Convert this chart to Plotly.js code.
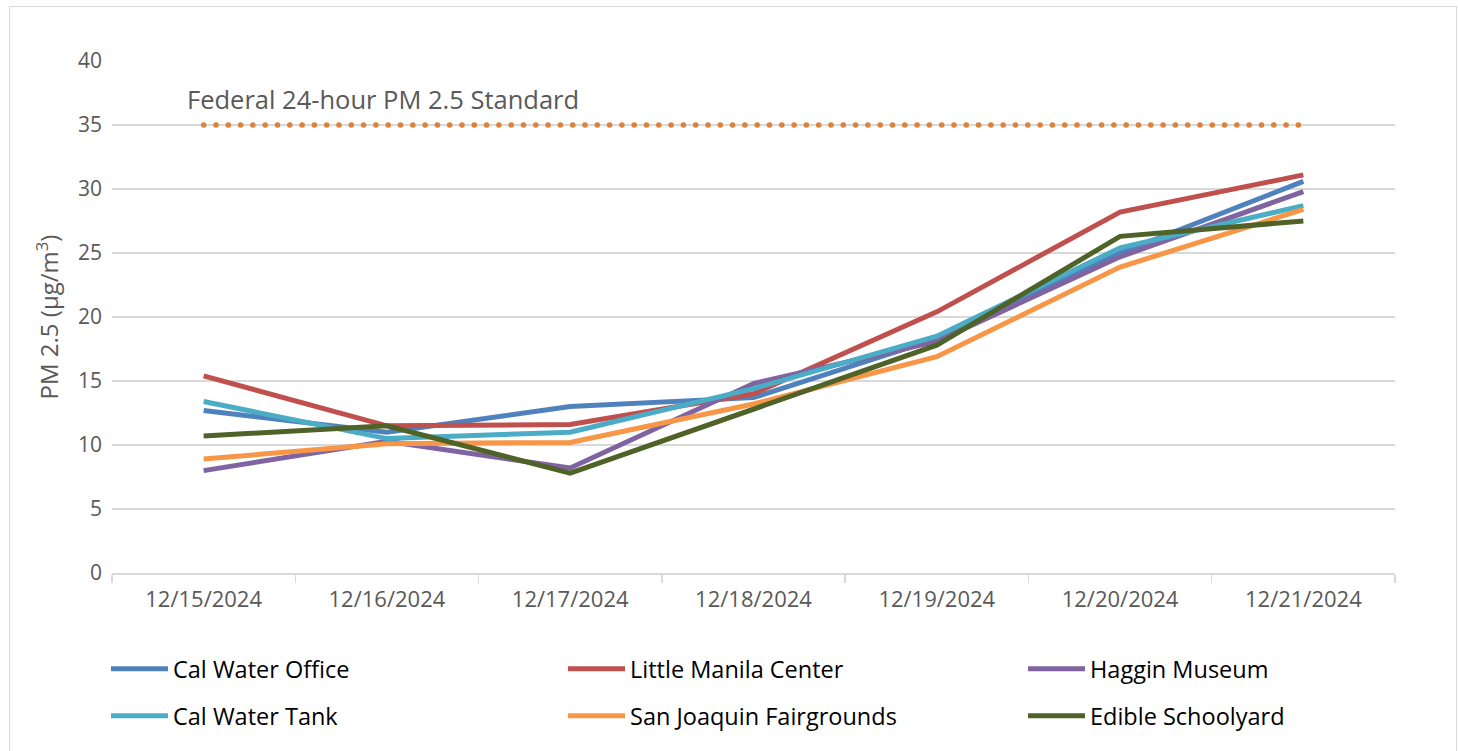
<!DOCTYPE html>
<html>
<head>
<meta charset="utf-8">
<script src="https://cdn.plot.ly/plotly-3.0.1.min.js"></script>
<style>
html,body{margin:0;padding:0;background:#fff;}
#wrap{position:relative;width:1458px;height:751px;}
#chart{width:1458px;height:751px;}
#frame{position:absolute;left:9px;top:6px;width:1446px;height:760px;border:1.5px solid #d9d9d9;pointer-events:none;}
.scatterlayer .trace:first-child path.js-line{stroke-linecap:round;}
</style>
</head>
<body>
<div id="wrap"><div id="chart"></div><div id="frame"></div></div>
<script>
const dates = ["12/15/2024","12/16/2024","12/17/2024","12/18/2024","12/19/2024","12/20/2024","12/21/2024"];
const calWaterOffice = [12.7, 11.0, 13.0, 13.7, 18.3, 25.0, 30.6];
const littleManila   = [15.4, 11.5, 11.6, 14.0, 20.4, 28.2, 31.1];
const hagginMuseum   = [8.0, 10.3, 8.2, 14.8, 18.1, 24.7, 29.8];
const calWaterTank   = [13.4, 10.5, 11.0, 14.4, 18.5, 25.4, 28.7];
const sjFairgrounds  = [8.9, 10.1, 10.2, 13.2, 16.9, 23.9, 28.4];
const edibleSchool   = [10.7, 11.5, 7.8, 12.8, 17.8, 26.3, 27.5];
const standardValue = 35;
const standardLabel = "Federal 24-hour PM 2.5 Standard";

const series = [
  {name:"Cal Water Office", y:calWaterOffice, color:"#4f81bd", legend:"legend",  lx:106, ly:669},
  {name:"Little Manila Center", y:littleManila, color:"#c0504d", legend:"legend2", lx:563, ly:669},
  {name:"Haggin Museum", y:hagginMuseum, color:"#8064a2", legend:"legend3", lx:1023, ly:669},
  {name:"Cal Water Tank", y:calWaterTank, color:"#4bacc6", legend:"legend4", lx:106, ly:716},
  {name:"San Joaquin Fairgrounds", y:sjFairgrounds, color:"#f79646", legend:"legend5", lx:563, ly:716},
  {name:"Edible Schoolyard", y:edibleSchool, color:"#4f6228", legend:"legend6", lx:1023, ly:716}
];

const FONT = "'Open Sans', sans-serif";
const traces = [{
  x:[dates[0], dates[dates.length-1]], y:[standardValue, standardValue],
  mode:"lines", showlegend:false, hoverinfo:"skip",
  line:{color:"#df8138", width:5.5, dash:"0.1px,12.2px"}
}];
series.forEach(s => traces.push({
  x:dates, y:s.y, name:s.name, mode:"lines", legend:s.legend,
  line:{color:s.color, width:5}
}));

const layout = {
  width:1458, height:751,
  margin:{l:112, r:63, t:61, b:178},
  paper_bgcolor:"#fff", plot_bgcolor:"#fff",
  font:{family:FONT, color:"#595959"},
  xaxis:{type:"category", categoryorder:"array", categoryarray:dates, range:[-0.5,6.5],
    showgrid:false, zeroline:false,
    showline:true, linecolor:"#d9d9d9", linewidth:1.5,
    ticks:"outside", tickson:"boundaries", ticklen:8, tickcolor:"#d9d9d9", tickwidth:1.5,
    tickfont:{family:FONT, size:22, color:"#595959"}, ticklabelstandoff:6},
  yaxis:{range:[0,40], dtick:5, showgrid:true, gridcolor:"#d9d9d9", gridwidth:1.5,
    zeroline:false, showline:false, ticks:"", ticklabelstandoff:9,
    tickfont:{family:FONT, size:21, color:"#595959"},
    title:{text:"PM 2.5 (µg/m<sup>3</sup>)", font:{family:FONT, size:24, color:"#595959"}, standoff:12}},
  annotations:[{xref:"x", yref:"y", x:-0.104, y:37.0, xanchor:"left", yanchor:"middle",
    text:standardLabel, showarrow:false, font:{family:FONT, size:25.5, color:"#595959"}}]
};
series.forEach(s => {
  layout[s.legend] = {
    orientation:"h", xref:"container", yref:"container",
    x:s.lx/1458, y:1-s.ly/751, xanchor:"left", yanchor:"middle",
    itemwidth:57, font:{family:FONT, size:23.5, color:"#000"}, bgcolor:"rgba(0,0,0,0)"
  };
});

Plotly.newPlot("chart", traces, layout, {displayModeBar:false, staticPlot:true});
</script>
</body>
</html>
